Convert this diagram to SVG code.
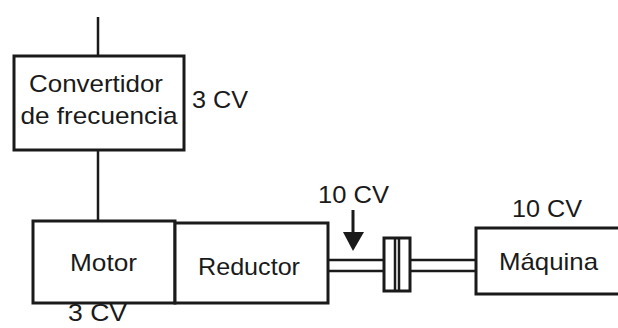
<svg xmlns="http://www.w3.org/2000/svg" width="618" height="328" viewBox="0 0 618 328">
<style>
.box{fill:#fff;stroke:#1a1a1a;stroke-width:3}
.ln{fill:none;stroke:#1a1a1a;stroke-width:2.5}
.t{font-family:"Liberation Sans",Arial,sans-serif;font-size:24px;fill:#1a1a1a}
</style>
<rect width="618" height="328" fill="#fff"/>
<g id="connectors">
<line class="ln" x1="98" y1="17" x2="98" y2="56"/>
<line class="ln" x1="98" y1="150" x2="98" y2="222"/>
<line class="ln" x1="328" y1="260" x2="384" y2="260"/>
<line class="ln" x1="328" y1="271" x2="384" y2="271"/>
<line class="ln" x1="410" y1="260" x2="476" y2="260"/>
<line class="ln" x1="410" y1="271" x2="476" y2="271"/>
<line x1="353" y1="210" x2="353" y2="234" stroke="#1a1a1a" stroke-width="3"/>
<polygon points="343,232 364,232 353,251" fill="#1a1a1a"/>
</g>
<g id="convertidor">
<rect class="box" x="14" y="56" width="170" height="94"/>
<text class="t" x="96" y="92" text-anchor="middle" textLength="134" lengthAdjust="spacingAndGlyphs">Convertidor</text>
<text class="t" x="99" y="124" text-anchor="middle" textLength="157" lengthAdjust="spacingAndGlyphs">de frecuencia</text>
<text class="t" x="192" y="108" textLength="56" lengthAdjust="spacingAndGlyphs">3 CV</text>
</g>
<g id="motor">
<rect class="box" x="33" y="221" width="142" height="82"/>
<text class="t" x="70" y="271" textLength="67" lengthAdjust="spacingAndGlyphs">Motor</text>
<text class="t" x="68" y="321" font-size="22" textLength="59" lengthAdjust="spacingAndGlyphs">3 CV</text>
</g>
<g id="reductor">
<rect class="box" x="175" y="223" width="153" height="80"/>
<text class="t" x="198" y="275" textLength="102" lengthAdjust="spacingAndGlyphs">Reductor</text>
<text class="t" x="318" y="203" textLength="71" lengthAdjust="spacingAndGlyphs">10 CV</text>
</g>
<g id="acoplamiento">
<rect class="box" x="384" y="238" width="26" height="53"/>
<line class="ln" x1="395" y1="238" x2="395" y2="291"/>
<line class="ln" x1="399" y1="238" x2="399" y2="291"/>
</g>
<g id="maquina">
<path class="box" d="M625,228 H476 V294 H625"/>
<text class="t" x="499" y="270" textLength="99" lengthAdjust="spacingAndGlyphs">Máquina</text>
<text class="t" x="512" y="217" textLength="70" lengthAdjust="spacingAndGlyphs">10 CV</text>
</g>
</svg>
